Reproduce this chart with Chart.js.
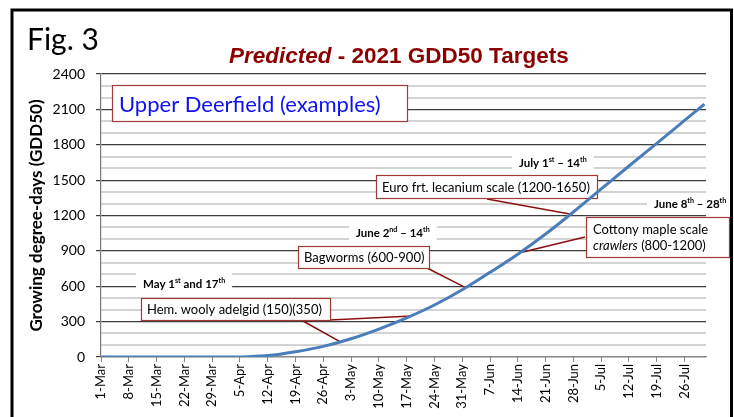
<!DOCTYPE html>
<html>
<head>
<meta charset="utf-8">
<title>Predicted - 2021 GDD50 Targets</title>
<script src="https://cdn.jsdelivr.net/npm/chart.js@4.4.1/dist/chart.umd.min.js"></script>
<style>
  html, body { margin: 0; padding: 0; background: #fff; }
  #wrap { width: 734px; height: 417px; }
</style>
</head>
<body>
<div id="wrap"><canvas id="gddChart" width="734" height="417"></canvas></div>
<script>
// date axis labels, one per week from 1-Mar
const weekLabels = ['1-Mar', '8-Mar', '15-Mar', '22-Mar', '29-Mar', '5-Apr', '12-Apr', '19-Apr',
    '26-Apr', '3-May', '10-May', '17-May', '24-May', '31-May', '7-Jun', '14-Jun', '21-Jun',
    '28-Jun', '5-Jul', '12-Jul', '19-Jul', '26-Jul'];

// days after 1-Mar where the curve was read, and the GDD50 total there
const dayOffsets = [0, 7, 14, 21, 28, 35, 42, 49, 56, 63, 70, 77, 84, 91, 98, 105, 112, 119, 126, 133, 140, 147, 152];
const gddValues = [0, 0, 0, 0, 0, 1, 12, 45, 90, 155, 237, 332, 441, 570, 718, 872, 1043, 1230, 1425, 1620, 1812, 2006, 2145];

const yMax = 2400;
const yStep = 100;
const yMajor = 300;

// pest target boxes (text only, placement is in the plugin below)
const noteTexts = {
    euro: 'Euro frt. lecanium scale (1200-1650)',
    cottony1: 'Cottony maple scale',
    cottony2: ['crawlers', ' (800-1200)'],
    bag: 'Bagworms (600-900)',
    hem: 'Hem. wooly adelgid (150)(350)',
    site: 'Upper Deerfield (examples)'
};

// date windows, '^' marks a superscript piece
const windowTexts = {
    july: ['July 1', '^st', ' – 14', '^th'],
    june8: ['June 8', '^th', ' – 28', '^th'],
    june2: ['June 2', '^nd', ' – 14', '^th'],
    may: ['May 1', '^st', ' and 17', '^th']
};

const FONT = 'Lato';
const BOX_RED = '#a33a3a';
const LEAD_RED = '#8b1010';

function richWidth(ctx, parts, size) {
    let w = 0;
    parts.forEach(p => {
        const sup = p.startsWith('^');
        const txt = sup ? p.slice(1) : p;
        ctx.font = `bold ${sup ? size * 0.62 : size}px ${FONT}`;
        w += ctx.measureText(txt).width;
    });
    return w;
}

function drawRich(ctx, parts, x, y, size) {
    let cx = x;
    parts.forEach(p => {
        const sup = p.startsWith('^');
        const txt = sup ? p.slice(1) : p;
        ctx.font = `bold ${sup ? size * 0.62 : size}px ${FONT}`;
        ctx.fillText(txt, cx, sup ? y - size * 0.4 : y);
        cx += ctx.measureText(txt).width;
    });
}

function windowLabel(ctx, parts, x, y) {
    const size = 11.5;
    const w = richWidth(ctx, parts, size);
    ctx.fillStyle = '#fff';
    ctx.fillRect(x - 7, y - 15, w + 14, 21);
    ctx.fillStyle = '#000';
    drawRich(ctx, parts, x, y, size);
}

function box(ctx, x, y, w, h) {
    ctx.fillStyle = '#fff';
    ctx.fillRect(x, y, w, h);
    ctx.strokeStyle = BOX_RED;
    ctx.lineWidth = 1.2;
    ctx.strokeRect(x + 0.5, y + 0.5, w, h);
}

function leader(chart, x0, y0, day, gdd) {
    const ctx = chart.ctx;
    const sx = chart.scales.x, sy = chart.scales.y;
    ctx.strokeStyle = LEAD_RED;
    ctx.lineWidth = 1.5;
    ctx.beginPath();
    ctx.moveTo(x0, y0);
    ctx.lineTo(sx.getPixelForValue(day), sy.getPixelForValue(gdd));
    ctx.stroke();
}

const notesPlugin = {
    id: 'notes',
    beforeDatasetsDraw(chart) {
        const ctx = chart.ctx;
        ctx.save();
        ctx.textBaseline = 'alphabetic';
        ctx.textAlign = 'left';

        // leader lines from the boxes to the curve
        leader(chart, 487, 199, 118.1, 1213);
        leader(chart, 585, 237, 105.5, 884);
        leader(chart, 425, 267, 91.7, 590);
        leader(chart, 303, 321, 60.2, 130);
        leader(chart, 330, 320, 78.3, 348);

        windowLabel(ctx, windowTexts.july, 519, 167);
        windowLabel(ctx, windowTexts.june8, 654, 208);
        windowLabel(ctx, windowTexts.june2, 356, 237);
        windowLabel(ctx, windowTexts.may, 143, 288);

        // site box
        box(ctx, 112, 85, 295, 36);
        ctx.fillStyle = '#1010f0';
        ctx.font = `22px ${FONT}`;
        ctx.fillText(noteTexts.site, 119, 112);

        ctx.font = `13px ${FONT}`;
        box(ctx, 376, 175, 221, 23);
        ctx.fillStyle = '#000';
        ctx.fillText(noteTexts.euro, 382, 192);

        box(ctx, 586, 217, 143, 40);
        ctx.fillStyle = '#000';
        ctx.font = `13px ${FONT}`;
        ctx.fillText(noteTexts.cottony1, 593, 234);
        ctx.font = `italic 13px ${FONT}`;
        ctx.fillText(noteTexts.cottony2[0], 593, 250);
        const cw = ctx.measureText(noteTexts.cottony2[0]).width;
        ctx.font = `13px ${FONT}`;
        ctx.fillText(noteTexts.cottony2[1], 593 + cw, 250);

        box(ctx, 298, 246, 131, 22);
        ctx.fillStyle = '#000';
        ctx.fillText(noteTexts.bag, 304, 262);

        box(ctx, 141, 298, 189, 22);
        ctx.fillStyle = '#000';
        ctx.fillText(noteTexts.hem, 147, 314);
        ctx.restore();
    },
    afterDraw(chart) {
        const ctx = chart.ctx;
        ctx.save();
        ctx.textBaseline = 'alphabetic';
        ctx.textAlign = 'left';

        // title: italic first word, rest bold
        ctx.fillStyle = '#8b0000';
        ctx.font = 'bold italic 22.5px "Liberation Sans"';
        ctx.fillText('Predicted', 229, 63);
        const pw = ctx.measureText('Predicted').width;
        ctx.font = 'bold 22.5px "Liberation Sans"';
        ctx.fillText(' - 2021 GDD50 Targets', 229 + pw, 63);

        ctx.fillStyle = '#000';
        ctx.font = `30px ${FONT}`;
        ctx.fillText('Fig. 3', 27, 50);

        // slide frame
        ctx.strokeStyle = '#000';
        ctx.lineWidth = 3;
        ctx.strokeRect(12, 10, 719.5, 440);
        ctx.restore();
    }
};

const isMajor = c => c.tick && c.tick.value % yMajor === 0;

new Chart(document.getElementById('gddChart'), {
    type: 'line',
    data: {
        datasets: [{
            label: 'GDD50',
            data: dayOffsets.map((d, i) => ({ x: d, y: gddValues[i] })),
            borderColor: '#4a7ebb',
            borderWidth: 3,
            pointRadius: 0,
            cubicInterpolationMode: 'monotone',
            fill: false
        }]
    },
    options: {
        responsive: false,
        animation: false,
        devicePixelRatio: 1,
        layout: { padding: { top: 74, right: 28, bottom: 0, left: 0 } },
        plugins: {
            legend: { display: false },
            tooltip: { enabled: false }
        },
        scales: {
            x: {
                type: 'linear',
                min: 0,
                max: 152.4,
                afterBuildTicks: s => { s.ticks = s.ticks.filter(t => t.value % 7 === 0 && t.value <= 147); },
                afterFit: s => { s.height = 60; },
                ticks: {
                    stepSize: 7,
                    autoSkip: false,
                    minRotation: 90,
                    maxRotation: 90,
                    padding: 2,
                    color: '#000',
                    font: { family: FONT, size: 13 },
                    callback: v => weekLabels[Math.round(v / 7)]
                },
                grid: { drawOnChartArea: false, tickLength: 5, color: '#8a8a8a' },
                border: { color: '#8a8a8a', width: 1.2 }
            },
            y: {
                min: 0,
                max: yMax,
                afterFit: s => { s.width = 101; },
                ticks: {
                    stepSize: yStep,
                    autoSkip: false,
                    padding: 11,
                    color: '#000',
                    font: { family: FONT, size: 14 },
                    callback: v => (v % yMajor === 0 ? String(v) : '')
                },
                grid: {
                    color: c => (isMajor(c) ? '#3c3c3c' : '#d3d3d3'),
                    lineWidth: c => (isMajor(c) ? 1.2 : 2),
                    tickColor: c => (isMajor(c) ? '#3c3c3c' : 'rgba(0,0,0,0)'),
                    tickLength: 5
                },
                border: { color: '#7a7a7a', width: 1.2 },
                title: {
                    display: true,
                    text: 'Growing degree-days (GDD50)',
                    color: '#000',
                    font: { family: FONT, size: 17, weight: 'bold' },
                    padding: { top: 26, bottom: 0 }
                }
            }
        }
    },
    plugins: [notesPlugin]
});
</script>
</body>
</html>
